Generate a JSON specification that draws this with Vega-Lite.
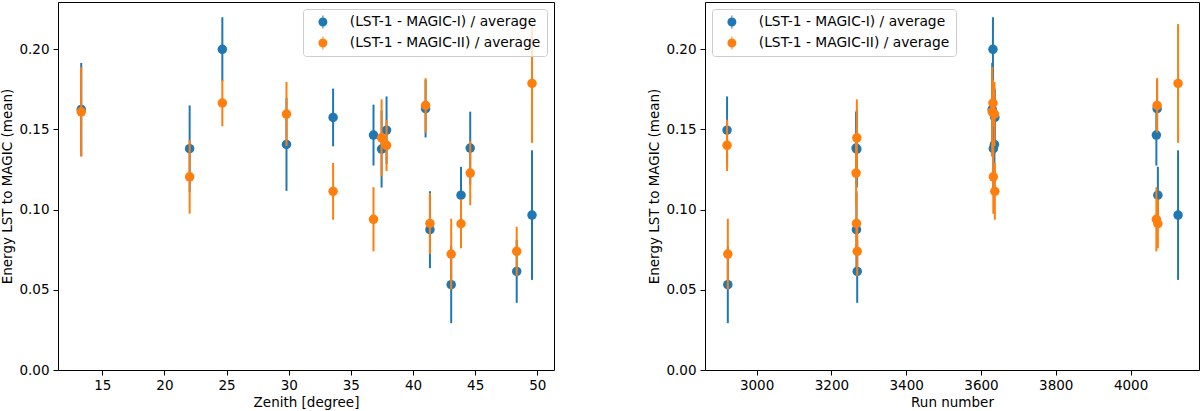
{
  "$schema": "https://vega.github.io/schema/vega-lite/v6.json",
  "padding": {"left": 0, "top": 1, "right": 2, "bottom": 0},
  "spacing": 92,
  "data": {
    "values": [
      {"zenith": 13.31, "run": 3630, "series": "(LST-1 - MAGIC-I) / average", "mean": 0.1625, "err": 0.029},
      {"zenith": 22.03, "run": 3633, "series": "(LST-1 - MAGIC-I) / average", "mean": 0.138, "err": 0.027},
      {"zenith": 24.66, "run": 3632, "series": "(LST-1 - MAGIC-I) / average", "mean": 0.2, "err": 0.02},
      {"zenith": 29.82, "run": 3636, "series": "(LST-1 - MAGIC-I) / average", "mean": 0.1407, "err": 0.029},
      {"zenith": 33.57, "run": 3637, "series": "(LST-1 - MAGIC-I) / average", "mean": 0.1575, "err": 0.018},
      {"zenith": 36.82, "run": 4069, "series": "(LST-1 - MAGIC-I) / average", "mean": 0.1465, "err": 0.019},
      {"zenith": 37.47, "run": 3268, "series": "(LST-1 - MAGIC-I) / average", "mean": 0.1378, "err": 0.024},
      {"zenith": 37.87, "run": 2921, "series": "(LST-1 - MAGIC-I) / average", "mean": 0.1496, "err": 0.021},
      {"zenith": 41.01, "run": 4071, "series": "(LST-1 - MAGIC-I) / average", "mean": 0.163, "err": 0.018},
      {"zenith": 41.36, "run": 3267, "series": "(LST-1 - MAGIC-I) / average", "mean": 0.0875, "err": 0.024},
      {"zenith": 43.07, "run": 2923, "series": "(LST-1 - MAGIC-I) / average", "mean": 0.0532, "err": 0.024},
      {"zenith": 43.86, "run": 4073, "series": "(LST-1 - MAGIC-I) / average", "mean": 0.109, "err": 0.0177},
      {"zenith": 44.6, "run": 3266, "series": "(LST-1 - MAGIC-I) / average", "mean": 0.1384, "err": 0.0227},
      {"zenith": 48.34, "run": 3269, "series": "(LST-1 - MAGIC-I) / average", "mean": 0.0615, "err": 0.0196},
      {"zenith": 49.57, "run": 4127, "series": "(LST-1 - MAGIC-I) / average", "mean": 0.0966, "err": 0.0404},
      {"zenith": 13.31, "run": 3630, "series": "(LST-1 - MAGIC-II) / average", "mean": 0.161, "err": 0.028},
      {"zenith": 22.03, "run": 3633, "series": "(LST-1 - MAGIC-II) / average", "mean": 0.1205, "err": 0.023},
      {"zenith": 24.66, "run": 3632, "series": "(LST-1 - MAGIC-II) / average", "mean": 0.1665, "err": 0.0145},
      {"zenith": 29.82, "run": 3636, "series": "(LST-1 - MAGIC-II) / average", "mean": 0.1596, "err": 0.02},
      {"zenith": 33.57, "run": 3637, "series": "(LST-1 - MAGIC-II) / average", "mean": 0.1114, "err": 0.0177},
      {"zenith": 36.82, "run": 4069, "series": "(LST-1 - MAGIC-II) / average", "mean": 0.094, "err": 0.02},
      {"zenith": 37.47, "run": 3268, "series": "(LST-1 - MAGIC-II) / average", "mean": 0.1448, "err": 0.024},
      {"zenith": 37.87, "run": 2921, "series": "(LST-1 - MAGIC-II) / average", "mean": 0.1401, "err": 0.016},
      {"zenith": 41.01, "run": 4071, "series": "(LST-1 - MAGIC-II) / average", "mean": 0.165, "err": 0.017},
      {"zenith": 41.36, "run": 3267, "series": "(LST-1 - MAGIC-II) / average", "mean": 0.0914, "err": 0.019},
      {"zenith": 43.07, "run": 2923, "series": "(LST-1 - MAGIC-II) / average", "mean": 0.0723, "err": 0.022},
      {"zenith": 43.86, "run": 4073, "series": "(LST-1 - MAGIC-II) / average", "mean": 0.0912, "err": 0.0153},
      {"zenith": 44.6, "run": 3266, "series": "(LST-1 - MAGIC-II) / average", "mean": 0.1228, "err": 0.02},
      {"zenith": 48.34, "run": 3269, "series": "(LST-1 - MAGIC-II) / average", "mean": 0.074, "err": 0.0153},
      {"zenith": 49.57, "run": 4127, "series": "(LST-1 - MAGIC-II) / average", "mean": 0.1787, "err": 0.037}
    ]
  },
  "hconcat": [
    {
      "width": 496,
      "height": 368,
      "encoding": {
        "x": {
          "field": "zenith", "type": "quantitative", "title": "Zenith [degree]",
          "scale": {"domain": [11.44, 51.34], "nice": false, "zero": false},
          "axis": {"values": [15, 20, 25, 30, 35, 40, 45, 50]}
        },
        "y": {
          "field": "mean", "type": "quantitative", "title": "Energy LST to MAGIC (mean)",
          "scale": {"domain": [0, 0.2295], "nice": false},
          "axis": {"values": [0, 0.05, 0.1, 0.15, 0.2], "format": ".2f"}
        }
      },
      "layer": [
        {
          "transform": [{"filter": "datum.series === '(LST-1 - MAGIC-I) / average'"}],
          "mark": {"type": "errorbar", "color": "#1f77b4", "thickness": 2},
          "encoding": {"yError": {"field": "err"}}
        },
        {
          "transform": [{"filter": "datum.series === '(LST-1 - MAGIC-I) / average'"}],
          "mark": {"type": "point", "filled": true, "size": 90, "opacity": 1},
          "encoding": {"color": {"field": "series", "type": "nominal"}}
        },
        {
          "transform": [{"filter": "datum.series === '(LST-1 - MAGIC-II) / average'"}],
          "mark": {"type": "errorbar", "color": "#ff7f0e", "thickness": 2},
          "encoding": {"yError": {"field": "err"}}
        },
        {
          "transform": [{"filter": "datum.series === '(LST-1 - MAGIC-II) / average'"}],
          "mark": {"type": "point", "filled": true, "size": 90, "opacity": 1},
          "encoding": {
            "color": {
              "field": "series", "type": "nominal",
              "scale": {"domain": ["(LST-1 - MAGIC-I) / average", "(LST-1 - MAGIC-II) / average"], "range": ["#1f77b4", "#ff7f0e"]},
              "legend": {"title": null, "orient": "top-right"}
            }
          }
        }
      ]
    },
    {
      "width": 494,
      "height": 368,
      "encoding": {
        "x": {
          "field": "run", "type": "quantitative", "title": "Run number",
          "scale": {"domain": [2862, 4183], "nice": false, "zero": false},
          "axis": {"values": [3000, 3200, 3400, 3600, 3800, 4000], "format": "d"}
        },
        "y": {
          "field": "mean", "type": "quantitative", "title": "Energy LST to MAGIC (mean)",
          "scale": {"domain": [0, 0.2295], "nice": false},
          "axis": {"values": [0, 0.05, 0.1, 0.15, 0.2], "format": ".2f"}
        }
      },
      "layer": [
        {
          "transform": [{"filter": "datum.series === '(LST-1 - MAGIC-I) / average'"}],
          "mark": {"type": "errorbar", "color": "#1f77b4", "thickness": 2},
          "encoding": {"yError": {"field": "err"}}
        },
        {
          "transform": [{"filter": "datum.series === '(LST-1 - MAGIC-I) / average'"}],
          "mark": {"type": "point", "filled": true, "size": 90, "opacity": 1},
          "encoding": {"color": {"field": "series", "type": "nominal"}}
        },
        {
          "transform": [{"filter": "datum.series === '(LST-1 - MAGIC-II) / average'"}],
          "mark": {"type": "errorbar", "color": "#ff7f0e", "thickness": 2},
          "encoding": {"yError": {"field": "err"}}
        },
        {
          "transform": [{"filter": "datum.series === '(LST-1 - MAGIC-II) / average'"}],
          "mark": {"type": "point", "filled": true, "size": 90, "opacity": 1},
          "encoding": {
            "color": {
              "field": "series", "type": "nominal",
              "scale": {"domain": ["(LST-1 - MAGIC-I) / average", "(LST-1 - MAGIC-II) / average"], "range": ["#1f77b4", "#ff7f0e"]},
              "legend": {"title": null, "orient": "top-left"}
            }
          }
        }
      ]
    }
  ],
  "resolve": {"scale": {"color": "independent"}, "legend": {"color": "independent"}},
  "config": {
    "font": "DejaVu Sans",
    "view": {"stroke": "black", "strokeWidth": 1},
    "axis": {
      "grid": false,
      "domain": false,
      "tickColor": "black",
      "tickSize": 5,
      "labelColor": "black",
      "labelFont": "DejaVu Sans",
      "labelFontSize": 13.5,
      "labelPadding": 3,
      "titleColor": "black",
      "titleFont": "DejaVu Sans",
      "titleFontSize": 13.5,
      "titleFontWeight": "normal",
      "titlePadding": 4
    },
    "axisY": {"labelPadding": 4, "titlePadding": 4},
    "legend": {
      "offset": 7,
      "padding": 6,
      "fillColor": "rgba(255,255,255,0.8)",
      "strokeColor": "#cccccc",
      "cornerRadius": 3,
      "labelFont": "DejaVu Sans",
      "labelFontSize": 13.8,
      "labelColor": "black",
      "labelLimit": 400,
      "labelOffset": 20,
      "symbolOffset": 7,
      "symbolSize": 100,
      "symbolStrokeWidth": 0,
      "symbolType": "M-0.9,0 A0.9,0.9 0 1,1 0.9,0 A0.9,0.9 0 1,1 -0.9,0 Z M-0.1,-1.3 L0.1,-1.3 L0.1,1.3 L-0.1,1.3 Z",
      "rowPadding": 6
    }
  }
}
